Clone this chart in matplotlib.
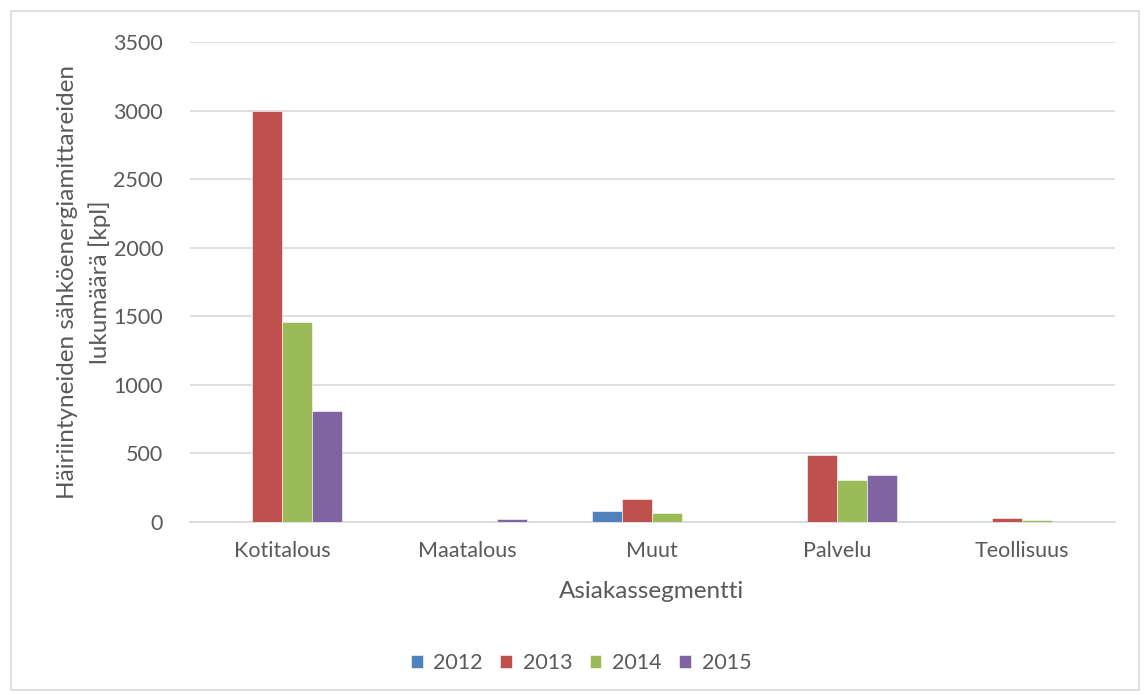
import matplotlib.pyplot as plt
import numpy as np

categories = ["Kotitalous", "Maatalous", "Muut", "Palvelu", "Teollisuus"]
years = ["2012", "2013", "2014", "2015"]
v2012 = [0, 0, 80, 0, 8]
v2013 = [3000, 0, 165, 488, 30]
v2014 = [1460, 0, 63, 306, 14]
v2015 = [808, 20, 0, 345, 10]
colors = ["#4f81bd", "#c0504d", "#9bbb59", "#8064a2"]

plt.rcParams['font.family'] = ['Lato', 'DejaVu Sans']
txt = "#595959"

fig = plt.figure(figsize=(11.44, 6.95), dpi=100)
ax = fig.add_axes([189.5 / 1144, 1 - 522 / 695, 925 / 1144, 480 / 695])

x = np.arange(len(categories))
w = 0.162
for i, (vals, c) in enumerate(zip([v2012, v2013, v2014, v2015], colors)):
    ax.bar(x + (i - 1.5) * w, vals, w, color=c, label=years[i], zorder=3,
           edgecolor="white", linewidth=0.4)

ax.set_xlim(-0.5, len(categories) - 0.5)
ax.set_ylim(0, 3500)
ax.set_yticks(np.arange(0, 3501, 500))
ax.set_xticks(x)
ax.set_xticklabels(categories)
ax.grid(axis="y", color="#d9d9d9", linewidth=1.2, zorder=0)
for s in ["top", "right", "left"]:
    ax.spines[s].set_visible(False)
ax.spines["bottom"].set_color("#d9d9d9")
ax.spines["bottom"].set_linewidth(1.2)
ax.tick_params(length=0, labelsize=15.5, colors=txt, pad=14)
ax.tick_params(axis="y", pad=19)

ax.set_xlabel("Asiakassegmentti", fontsize=17.5, color=txt, labelpad=14)
ax.set_ylabel("Häiriintyneiden sähköenergiamittareiden\nlukumäärä [kpl]",
              fontsize=17.5, color=txt, linespacing=1.55)
ax.yaxis.set_label_coords((111 - 189.5) / 925, 0.5)

fig.legend(loc="center", bbox_to_anchor=(581 / 1144, 1 - 663 / 695), ncol=4,
           frameon=False, fontsize=15.5, handlelength=0.55, handleheight=0.55,
           handletextpad=0.5, columnspacing=0.8, labelcolor=txt)

fig.patches.append(plt.Rectangle((11 / 1144, 1 - 690 / 695), 1128 / 1144, 679 / 695,
                                 transform=fig.transFigure, fill=False,
                                 edgecolor="#d9d9d9", linewidth=1.2))

fig.savefig("out.png", dpi=100)
